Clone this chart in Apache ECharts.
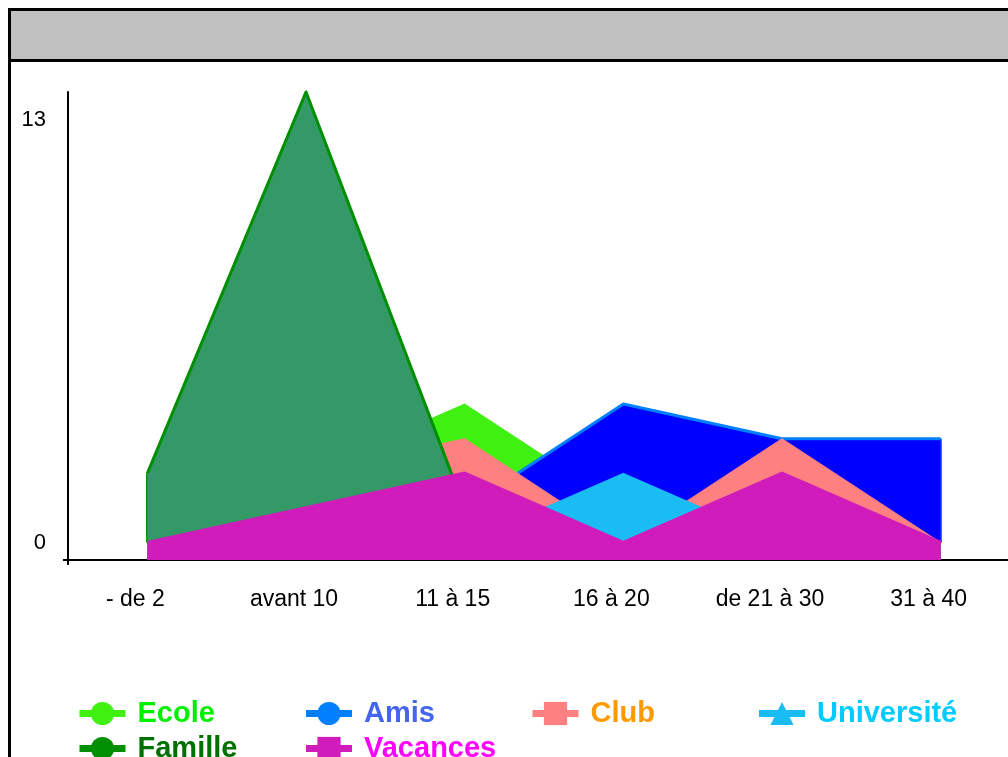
<!DOCTYPE html>
<html>
<head>
<meta charset="utf-8">
<script src="https://cdn.jsdelivr.net/npm/echarts@6/dist/echarts.min.js"></script>
<style>
  html, body { margin: 0; padding: 0; background: #fff; }
  #chart { width: 1008px; height: 757px; }
</style>
</head>
<body>
<div id="chart"></div>
<script>
// tranches d'âge (axe X)
var categories = ['- de 2', 'avant 10', '11 à 15', '16 à 20', 'de 21 à 30', '31 à 40'];
// valeurs
var ecole = [1, 2, 4, 1, 1, 0];
var amis = [0, 0, 1, 4, 3, 3];
var club = [1, 2, 3, 0, 3, 0];
var universite = [0, 0, 0, 2, 0, 0];
var famille = [2, 13, 1, 0, 0, 0];
var vacances = [0, 1, 2, 0, 2, 0];
// graduations affichées sur l'axe Y
var yTicks = [0, 13];

var font = 'Liberation Sans, Arial, sans-serif';

// une série "aire" : remplissage + contour, z croissant pour garder l'ordre de dessin
function aire(nom, data, fill, trait, largeur, symbole, z, extra) {
  var s = {
    name: nom,
    type: 'line',
    z: z,
    data: data,
    symbol: symbole,
    showSymbol: false,
    clip: false,
    itemStyle: { color: trait },
    lineStyle: { color: trait, width: largeur, join: 'round' },
    areaStyle: { color: fill, opacity: 1, origin: 'start' }
  };
  if (extra) s.markLine = extra;
  return s;
}

// bord vertical du polygone (comme dans l'original)
function bord(cat, haut, couleur, z) {
  return {
    silent: true,
    animation: false,
    z: z,
    symbol: ['none', 'none'],
    label: { show: false },
    lineStyle: { color: couleur, width: 3, type: 'solid' },
    data: [[{ coord: [cat, 0] }, { coord: [cat, haut] }]]
  };
}

var chart = echarts.init(document.getElementById('chart'));
chart.setOption({
  animation: false,
  textStyle: { fontFamily: font },
  graphic: [
    // cadre + bandeau gris du titre
    { type: 'rect', z: 100, shape: { x: 11, y: 11, width: 1000, height: 48 }, style: { fill: '#c0c0c0' } },
    { type: 'rect', z: 101, shape: { x: 9.5, y: 9.5, width: 1200, height: 1000 }, style: { fill: 'none', stroke: '#000', lineWidth: 3 } },
    { type: 'line', z: 101, shape: { x1: 9, y1: 60.5, x2: 1010, y2: 60.5 }, style: { stroke: '#000', lineWidth: 3 } }
  ],
  grid: { left: 68, top: 92, width: 952, height: 468, outerBoundsMode: 'none', containLabel: false },
  xAxis: {
    type: 'category',
    data: categories,
    boundaryGap: true,
    axisLine: { onZero: false, lineStyle: { color: '#000', width: 2 } },
    axisTick: {
      show: true, length: 5, interval: function (i) { return i === 0; },
      lineStyle: { color: '#000', width: 2 }
    },
    axisLabel: {
      interval: 0, margin: 28, fontSize: 23, color: '#000', fontFamily: font,
      padding: [0, 24, 0, 0]
    },
    splitLine: { show: false }
  },
  yAxis: {
    type: 'value',
    min: -0.5,
    max: 13,
    axisLine: { show: true, lineStyle: { color: '#000', width: 2 } },
    axisTick: { show: true, customValues: [-0.5], length: 5, lineStyle: { color: '#000', width: 2 } },
    splitLine: { show: false },
    axisLabel: {
      customValues: yTicks,
      margin: 22,
      color: '#000',
      fontSize: 22,
      fontFamily: font,
      formatter: function (v) { return v === 13 ? '{h|13}' : '{b|' + v + '}'; },
      rich: {
        h: { fontSize: 22, color: '#000', fontFamily: font, padding: [56, 0, 0, 0] },
        b: { fontSize: 22, color: '#000', fontFamily: font }
      }
    }
  },
  legend: {
    left: 76,
    top: 696,
    width: 920,
    padding: 0,
    orient: 'horizontal',
    itemWidth: 46,
    itemHeight: 29,
    itemGap: 0,
    lineStyle: { width: 7 },
    textStyle: {
      fontSize: 29, fontWeight: 'bold', fontFamily: font,
      width: 165, lineHeight: 35, padding: [0, 0, 0, 7]
    },
    data: [
      { name: 'Ecole', textStyle: { color: '#00ee00' } },
      { name: 'Amis', textStyle: { color: '#4466ee' } },
      { name: 'Club', textStyle: { color: '#ff9900' } },
      { name: 'Université', textStyle: { color: '#00ccff' } },
      { name: 'Famille', textStyle: { color: '#007000' } },
      { name: 'Vacances', textStyle: { color: '#ff00ff' } }
    ]
  },
  series: [
    aire('Ecole', ecole, '#40f010', '#40f010', 1, 'circle', 2),
    aire('Amis', amis, '#0000ff', '#0080ff', 3, 'circle', 3, bord('31 à 40', 3, '#0080ff', 3)),
    aire('Club', club, '#ff8080', '#ff8080', 1, 'rect', 4),
    aire('Université', universite, '#1abcf4', '#1abcf4', 1, 'triangle', 5),
    aire('Famille', famille, '#339966', '#008f00', 3, 'circle', 6, bord('- de 2', 2, '#008f00', 6)),
    aire('Vacances', vacances, '#d01cba', '#d01cba', 3.5, 'rect', 7)
  ]
});
</script>
</body>
</html>
